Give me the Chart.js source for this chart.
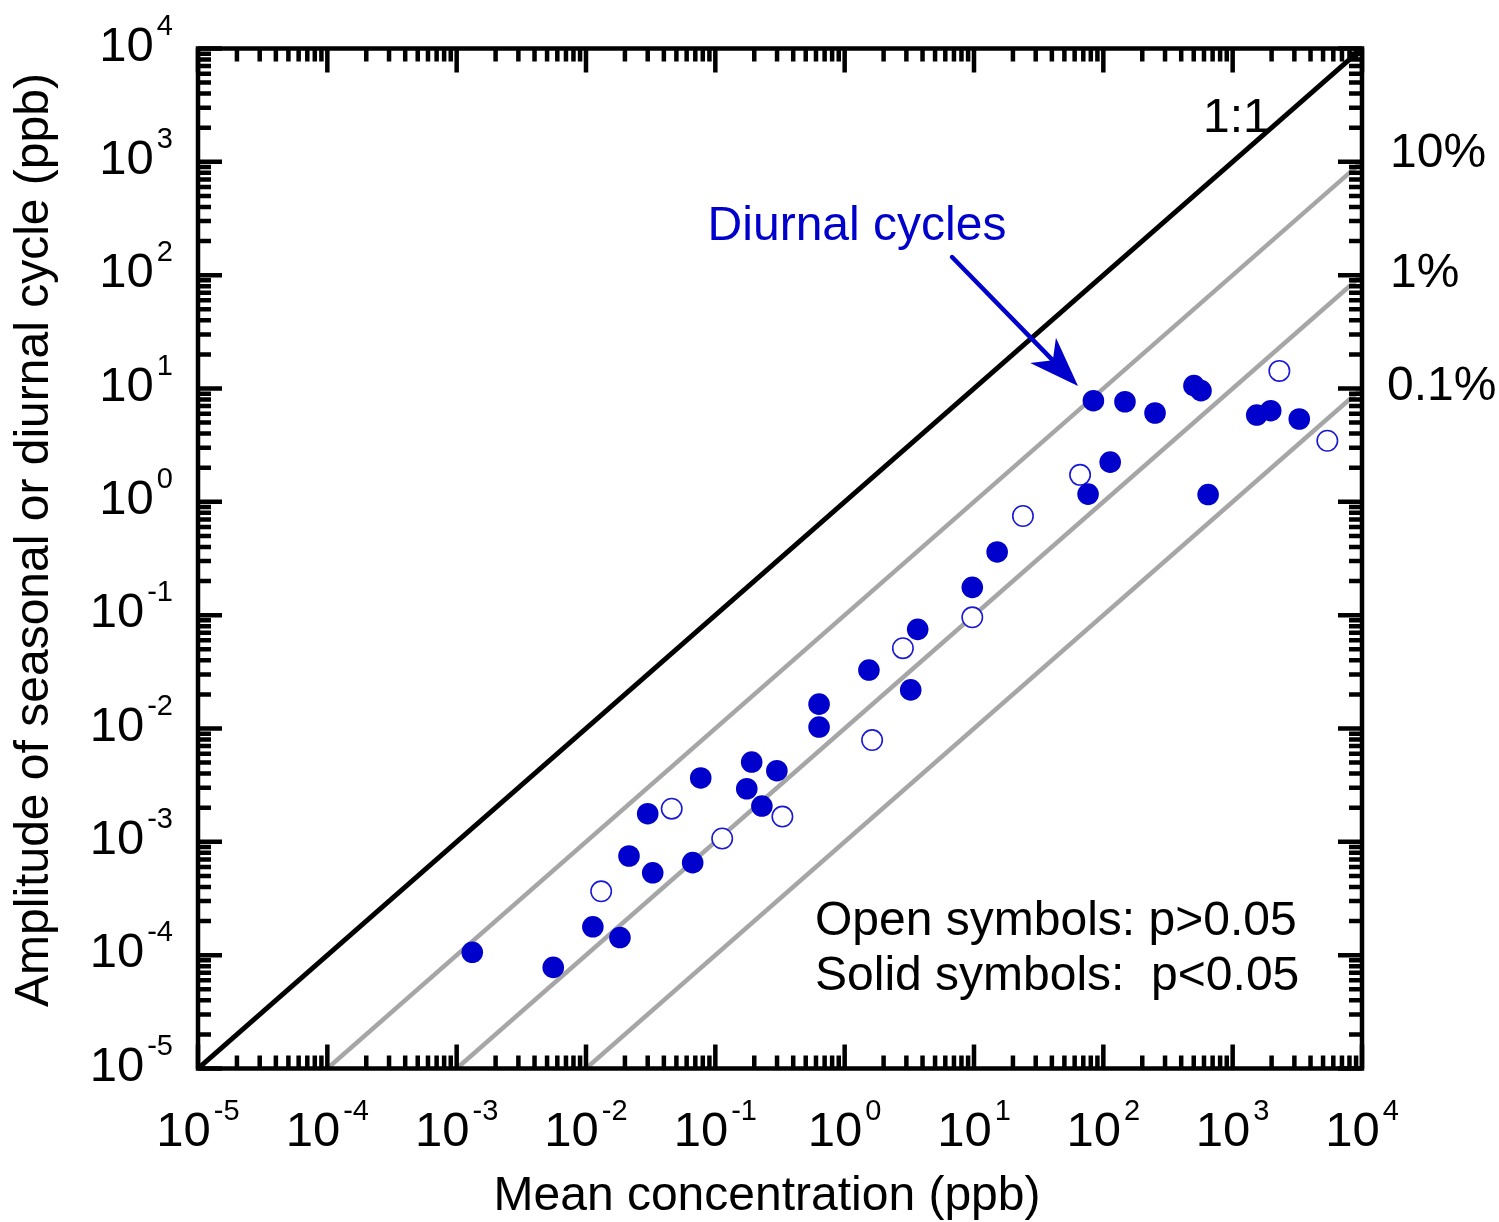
<!DOCTYPE html>
<html>
<head>
<meta charset="utf-8">
<script src="https://cdn.jsdelivr.net/npm/chart.js@4.4.0/dist/chart.umd.min.js"></script>
<style>
  html, body { margin: 0; padding: 0; background: #fff; }
  #wrap { width: 1499px; height: 1222px; position: relative; }
</style>
</head>
<body>
<div id="wrap"><canvas id="chart"></canvas></div>
<script>
// solid symbols (p<0.05): mean concentration / amplitude, ppb
const solidX = [1.32e-3, 5.58e-3, 1.13e-2, 1.83e-2, 2.15e-2, 3.0e-2, 3.28e-2, 6.68e-2, 7.71e-2,
  0.175, 0.191, 0.229, 0.299, 0.634, 0.634, 1.54, 3.24, 3.67, 9.70, 15.1,
  76.2, 83.8, 113, 147, 251, 502, 569, 646, 1535, 1968, 3273];
const solidY = [1.06e-4, 7.8e-5, 1.78e-4, 1.43e-4, 7.5e-4, 1.77e-3, 5.33e-4, 6.55e-4, 3.66e-3,
  2.94e-3, 5.06e-3, 2.07e-3, 4.24e-3, 1.64e-2, 1.03e-2, 3.28e-2, 2.19e-2, 7.5e-2, 0.176, 0.361,
  1.17, 7.80, 2.24, 7.64, 6.08, 10.6, 9.57, 1.16, 5.83, 6.37, 5.38];

// open symbols (p>0.05)
const openX = [1.31e-2, 4.60e-2, 0.113, 0.330, 1.63, 2.82, 9.70, 23.9, 66.1, 2296, 5395];
const openY = [3.66e-4, 1.96e-3, 1.07e-3, 1.67e-3, 7.91e-3, 5.11e-2, 9.57e-2, 0.750, 1.73, 14.3, 3.46];

// reference lines: 1:1, 10%, 1%, 0.1%
const refNames = ["1:1", "10%", "1%", "0.1%"];
const refX = [[1e-5, 1e4], [1e-4, 1e4], [1e-3, 1e4], [1e-2, 1e4]];
const refY = [[1e-5, 1e4], [1e-5, 1e3], [1e-5, 1e2], [1e-5, 1e1]];

// decade exponents used for tick labels on both axes
const decades = [-5, -4, -3, -2, -1, 0, 1, 2, 3, 4];

// arrow for the "Diurnal cycles" note (tail, head) in data units
const arrowX = [6.76, 63.7];
const arrowY = [144.5, 10.5];

const BLUE = "#0000cc";
const GREY = "#a6a6a6";
const FONT = "'Liberation Sans', Arial, Helvetica, sans-serif";

function toPts(xs, ys) {
  return xs.map((x, i) => ({ x: x, y: ys[i] }));
}

const datasets = [
  {
    label: "Solid symbols",
    data: toPts(solidX, solidY),
    pointRadius: 10.8,
    pointHoverRadius: 10.8,
    backgroundColor: BLUE,
    borderWidth: 0,
    order: 1
  },
  {
    label: "Open symbols",
    data: toPts(openX, openY),
    pointRadius: 10.2,
    pointHoverRadius: 10.2,
    backgroundColor: "#fff",
    borderColor: "#1a1ad6",
    borderWidth: 1.6,
    order: 2
  }
];
refNames.forEach((name, i) => {
  datasets.push({
    label: name,
    data: toPts(refX[i], refY[i]),
    showLine: true,
    pointRadius: 0,
    borderColor: i === 0 ? "#000" : GREY,
    borderWidth: i === 0 ? 5 : 4.5,
    order: 3 + i
  });
});

function pow10Label(ctx, k, x, y, align) {
  const base = "10", exp = String(k);
  ctx.font = "49px " + FONT;
  const wb = ctx.measureText(base).width;
  ctx.font = "29px " + FONT;
  const we = ctx.measureText(exp).width;
  const total = wb + 3 + we;
  const x0 = align === "center" ? x - total / 2 : x - total;
  ctx.textAlign = "left";
  ctx.font = "49px " + FONT;
  ctx.fillText(base, x0, y);
  ctx.font = "29px " + FONT;
  ctx.fillText(exp, x0 + wb + 3, y - 26);
}

const decorations = {
  id: "decorations",
  afterDatasetsDraw(chart) {
    const ctx = chart.ctx;
    const a = chart.chartArea;
    const sx = chart.scales.x, sy = chart.scales.y;
    ctx.save();

    // frame
    ctx.strokeStyle = "#000";
    ctx.lineWidth = 4.5;
    ctx.strokeRect(a.left, a.top, a.right - a.left, a.bottom - a.top);

    // inward log ticks on all four sides
    ctx.lineWidth = 4.5;
    ctx.beginPath();
    decades.forEach(k => {
      for (let m = 1; m <= 9; m++) {
        const v = m * Math.pow(10, k);
        if (v > 1e4 * 1.0001) break;
        const len = m === 1 ? 24 : 13;
        const px = sx.getPixelForValue(v);
        const py = sy.getPixelForValue(v);
        ctx.moveTo(px, a.bottom); ctx.lineTo(px, a.bottom - len);
        ctx.moveTo(px, a.top); ctx.lineTo(px, a.top + len);
        ctx.moveTo(a.left, py); ctx.lineTo(a.left + len, py);
        ctx.moveTo(a.right, py); ctx.lineTo(a.right - len, py);
      }
    });
    ctx.stroke();

    // tick labels
    ctx.fillStyle = "#000";
    ctx.textBaseline = "alphabetic";
    decades.forEach(k => {
      const v = Math.pow(10, k);
      pow10Label(ctx, k, sx.getPixelForValue(v), a.bottom + 77, "center");
      pow10Label(ctx, k, a.left - 25, sy.getPixelForValue(v) + 12, "right");
    });

    // axis titles
    ctx.font = "48px " + FONT;
    ctx.textAlign = "center";
    ctx.fillText("Mean concentration (ppb)", (a.left + a.right) / 2 - 13, 1210);
    ctx.save();
    ctx.translate(48, 540);
    ctx.rotate(-Math.PI / 2);
    ctx.fillText("Amplitude of seasonal or diurnal cycle (ppb)", 0, 0);
    ctx.restore();

    // reference line labels
    ctx.textAlign = "left";
    ctx.fillText(refNames[0], a.left + 1005, a.top + 83);
    ctx.fillText(refNames[1], a.right + 28, a.top + 118);
    ctx.fillText(refNames[2], a.right + 28, a.top + 238);
    ctx.fillText(refNames[3], a.right + 25, a.top + 351);

    // significance note
    ctx.fillText("Open symbols: p>0.05", 815, 935);
    ctx.fillText("Solid symbols:  p<0.05", 815, 990);

    // diurnal cycles note + arrow
    ctx.fillStyle = BLUE;
    ctx.textAlign = "center";
    ctx.fillText("Diurnal cycles", 857, 240);

    const x1 = sx.getPixelForValue(arrowX[0]), y1 = sy.getPixelForValue(arrowY[0]);
    const x2 = sx.getPixelForValue(arrowX[1]), y2 = sy.getPixelForValue(arrowY[1]);
    const ang = Math.atan2(y2 - y1, x2 - x1);
    const headLen = 50, headHalf = 18, notch = 36;
    const bx = x2 - notch * Math.cos(ang), by = y2 - notch * Math.sin(ang);
    ctx.strokeStyle = BLUE;
    ctx.lineWidth = 4.5;
    ctx.lineCap = "round";
    ctx.beginPath();
    ctx.moveTo(x1, y1);
    ctx.lineTo(bx, by);
    ctx.stroke();
    const hx = x2 - headLen * Math.cos(ang), hy = y2 - headLen * Math.sin(ang);
    const nx = -Math.sin(ang), ny = Math.cos(ang);
    ctx.beginPath();
    ctx.moveTo(x2, y2);
    ctx.lineTo(hx + nx * headHalf, hy + ny * headHalf);
    ctx.lineTo(bx, by);
    ctx.lineTo(hx - nx * headHalf, hy - ny * headHalf);
    ctx.closePath();
    ctx.fill();

    ctx.restore();
  }
};

new Chart(document.getElementById("chart"), {
  type: "scatter",
  data: { datasets },
  options: {
    responsive: true,
    maintainAspectRatio: false,
    animation: false,
    layout: { padding: { left: 198, right: 137, top: 48.5, bottom: 153.5 } },
    plugins: { legend: { display: false }, tooltip: { enabled: false } },
    scales: {
      x: { type: "logarithmic", min: 1e-5, max: 1e4, display: false },
      y: { type: "logarithmic", min: 1e-5, max: 1e4, display: false }
    }
  },
  plugins: [decorations]
});
</script>
</body>
</html>
